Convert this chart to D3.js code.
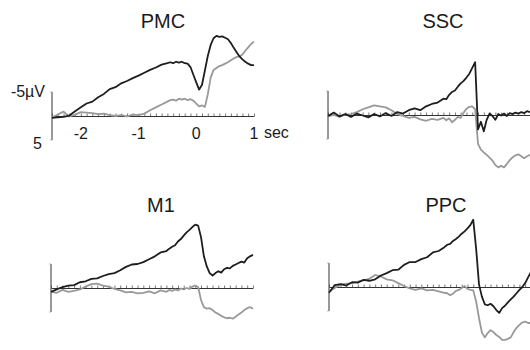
<!DOCTYPE html>
<html>
<head>
<meta charset="utf-8">
<script src="https://cdn.jsdelivr.net/npm/d3@7"></script>
<style>
  body { margin: 0; background: #fff; }
  svg { display: block; font-family: "Liberation Sans", Arial, sans-serif; }
</style>
</head>
<body>
<div id="chart"></div>
<script>
// time points (sec), shared by every trace
const times = [-2.5, -2.4, -2.3, -2.2, -2.1, -2.0, -1.9, -1.8, -1.7, -1.6, -1.5, -1.4, -1.3, -1.2, -1.1, -1.0, -0.9, -0.8, -0.7, -0.6, -0.5,
  -0.45, -0.4, -0.35, -0.3, -0.25, -0.2, -0.15, -0.1, -0.05, 0, 0.05, 0.1, 0.15, 0.2, 0.25, 0.3, 0.35, 0.4, 0.45, 0.5,
  0.55, 0.6, 0.65, 0.7, 0.75, 0.8, 0.85, 0.9, 0.95, 1.0];

// amplitudes in µV (negative is drawn upward)
const pmcDark = [0.4, 0.3, 0.2, -0.1, -1.0, -1.8, -2.6, -3.0, -3.9, -4.6, -5.6, -6.0, -6.8, -7.3, -7.9, -8.4, -9.0, -9.6, -10.1, -10.7, -11.0,
  -11.2, -11.0, -11.3, -11.1, -11.3, -11.0, -10.9, -10.2, -8.6, -7.0, -5.5, -6.5, -9.5, -12.5, -14.8, -16.2, -16.7, -16.5, -16.6, -16.3,
  -16.0, -15.2, -14.2, -13.3, -12.4, -11.8, -11.3, -10.9, -10.6, -10.6];
const pmcGray = [0.3, -0.3, -0.9, 0.1, -0.3, -0.8, -0.7, -0.6, -0.4, -0.5, -0.2, 0.0, -0.2, 0.1, -0.3, -0.2, -0.5, -1.2, -1.8, -2.4, -3.0,
  -3.3, -3.4, -3.2, -3.6, -3.4, -3.6, -3.3, -3.5, -3.2, -2.6, -2.0, -2.2, -1.9, -4.5, -8.0, -9.6, -10.0, -10.4, -10.6, -10.9,
  -11.2, -11.6, -12.0, -12.3, -12.4, -12.8, -13.6, -14.3, -15.0, -15.5];

const sscDark = [0.2, -0.5, 0.3, -0.2, 0.4, -0.3, 0.1, 0.5, -0.2, 0.3, -0.4, 0.2, -0.6, -0.3, -1.0, -1.4, -1.0, -1.8, -2.3, -2.6, -3.4,
  -3.3, -4.2, -4.8, -5.1, -5.9, -6.6, -7.1, -7.8, -8.6, -9.8, -11.0, 3.0, 1.4, 3.4, 1.0, -0.3, 0.2, 1.0, -0.2, 0.1,
  -0.3, 0.2, -0.4, -0.2, -0.5, -0.3, -0.6, -0.4, -0.8, -0.6];
const sscGray = [0.3, 0.0, 0.4, -0.1, -0.2, -0.6, -1.2, -1.6, -2.0, -1.8, -1.6, -1.0, -0.2, 0.2, 0.6, 0.4, 0.9, 1.2, 0.8, 1.0, 0.6,
  1.1, 0.7, 1.5, 1.0, 0.4, 0.6, -0.5, -1.3, -1.7, -1.8, -1.2, 6.0, 7.2, 7.8, 8.3, 8.9, 9.5, 10.4, 10.9, 10.6,
  10.9, 10.2, 9.4, 8.8, 8.4, 8.2, 8.6, 9.0, 8.6, 8.3];

const m1Dark = [0.8, 0.3, -0.2, -0.5, -0.6, -1.2, -1.4, -1.9, -2.0, -2.5, -2.9, -3.1, -3.7, -4.4, -4.9, -5.0, -5.4, -6.0, -6.6, -7.4, -7.7,
  -8.2, -8.6, -8.9, -9.7, -10.2, -10.9, -11.6, -12.1, -12.7, -13.2, -13.0, -10.6, -6.6, -4.5, -3.1, -2.6, -3.1, -3.5, -3.2, -3.9,
  -4.2, -4.1, -4.6, -4.9, -5.2, -5.5, -5.3, -6.2, -6.6, -6.9];
const m1Gray = [0.8, 1.0, 0.4, 0.8, 0.6, 0.3, -0.3, -0.8, -0.9, -0.5, -0.3, 0.2, 0.5, 0.9, 0.8, 1.1, 1.0, 0.7, 1.1, 0.5, 0.8,
  0.4, 0.6, 0.3, 0.5, 0.1, 0.3, 0.0, 0.2, -0.3, -0.5, -0.2, 2.5, 4.0, 4.3, 4.2, 4.6, 5.1, 5.4, 5.8, 6.1,
  6.3, 6.2, 6.4, 6.0, 5.5, 5.1, 4.6, 4.2, 4.0, 4.3];

const ppcDark = [1.2, -0.4, -0.6, -0.3, -1.0, -0.9, -1.5, -1.3, -1.6, -2.4, -2.9, -3.5, -3.6, -4.6, -5.2, -5.2, -5.8, -6.2, -7.2, -7.5, -8.3,
  -8.8, -9.0, -9.6, -10.0, -10.5, -11.1, -11.6, -12.2, -12.9, -14.0, -8.0, -0.5, 2.0, 3.6, 3.8, 3.5, 4.0, 4.8, 5.4, 4.4,
  3.9, 3.2, 2.6, 2.0, 1.3, 0.6, 0.0, -0.8, -2.0, -3.1];
const ppcGray = [1.0, 0.2, -0.5, -0.7, -0.8, -1.1, -1.4, -1.7, -2.5, -2.2, -1.6, -1.4, -0.8, -0.2, 0.3, 0.6, 0.3, 0.7, 0.6, 0.9, 1.2,
  1.3, 1.7, 1.4, 0.8, 0.6, 0.2, -0.2, 0.4, 0.6, 0.7, 3.0, 6.5, 9.5, 10.5, 9.6, 9.0, 9.4, 10.0, 10.4, 11.0,
  11.0, 10.8, 10.5, 9.4, 8.5, 7.9, 7.4, 7.2, 7.5, 7.5];

const panelNames = ["PMC", "SSC", "M1", "PPC"];
const darkSeries = [pmcDark, sscDark, m1Dark, ppcDark];
const graySeries = [pmcGray, sscGray, m1Gray, ppcGray];
const timeTicks = [-2, -1, 0, 1];

const width = 530, height = 350;
// layout: left of axis, zero line y, title centre
const layout = [
  { x0: 52, y0: 116, tx: 163, ty: 28 },
  { x0: 328, y0: 115, tx: 443, ty: 28 },
  { x0: 51, y0: 288, tx: 161, ty: 212 },
  { x0: 329, y0: 287, tx: 446, ty: 212 }
];
const pxPerSec = 57.7;
const pxPerUV = 4.8;

const svg = d3.select("#chart").append("svg")
  .attr("width", width)
  .attr("height", height);

panelNames.forEach((name, i) => {
  const L = layout[i];
  const x = d3.scaleLinear().domain([-2.5, 1]).range([L.x0, L.x0 + 3.5 * pxPerSec]);
  const y = d3.scaleLinear().domain([0, 5]).range([L.y0, L.y0 + 5 * pxPerUV]);
  const g = svg.append("g");

  // title
  g.append("text")
    .attr("x", L.tx).attr("y", L.ty)
    .attr("text-anchor", "middle")
    .attr("font-size", "20px")
    .attr("fill", "#1a1a1a")
    .text(name);

  // time axis with 100 ms ticks
  const ax = g.append("g")
    .attr("transform", "translate(0," + L.y0 + ")")
    .call(d3.axisTop(x)
      .tickValues(d3.range(-25, 11).map(d => d / 10))
      .tickSize(2.5)
      .tickSizeOuter(0)
      .tickFormat(""));
  ax.select(".domain").attr("stroke", "#333").attr("stroke-width", 1);
  ax.selectAll(".tick line").attr("stroke", "#555").attr("stroke-width", 0.8);

  // amplitude scale bar
  g.append("line")
    .attr("x1", L.x0).attr("x2", L.x0)
    .attr("y1", y(-5)).attr("y2", y(5))
    .attr("stroke", "#333").attr("stroke-width", 1);
  [-5, 5].forEach(v => {
    g.append("line")
      .attr("x1", L.x0 - 2).attr("x2", L.x0)
      .attr("y1", y(v)).attr("y2", y(v))
      .attr("stroke", "#aaa").attr("stroke-width", 0.8);
  });

  const line = d3.line()
    .x((d, k) => x(times[k]))
    .y(d => y(d));

  g.append("path")
    .datum(graySeries[i])
    .attr("d", line)
    .attr("fill", "none")
    .attr("stroke", "#999")
    .attr("stroke-width", 1.8)
    .attr("stroke-linejoin", "round");

  g.append("path")
    .datum(darkSeries[i])
    .attr("d", line)
    .attr("fill", "none")
    .attr("stroke", "#1e1e1e")
    .attr("stroke-width", 1.8)
    .attr("stroke-linejoin", "round");

  if (i === 0) {
    g.selectAll(".tlabel")
      .data(timeTicks)
      .enter().append("text")
      .attr("x", d => x(d))
      .attr("y", L.y0 + 23)
      .attr("text-anchor", "middle")
      .attr("font-size", "16px")
      .attr("fill", "#1a1a1a")
      .text(d => d);
    g.append("text")
      .attr("x", x(1) + 10).attr("y", L.y0 + 22)
      .attr("font-size", "16px")
      .attr("fill", "#1a1a1a")
      .text("sec");
    g.append("text")
      .attr("x", L.x0 - 7).attr("y", y(-5) + 5)
      .attr("text-anchor", "end")
      .attr("font-size", "16px")
      .attr("fill", "#1a1a1a")
      .text("-5µV");
    g.append("text")
      .attr("x", L.x0 - 10).attr("y", y(5) + 9)
      .attr("text-anchor", "end")
      .attr("font-size", "16px")
      .attr("fill", "#1a1a1a")
      .text("5");
  }
});
</script>
</body>
</html>
